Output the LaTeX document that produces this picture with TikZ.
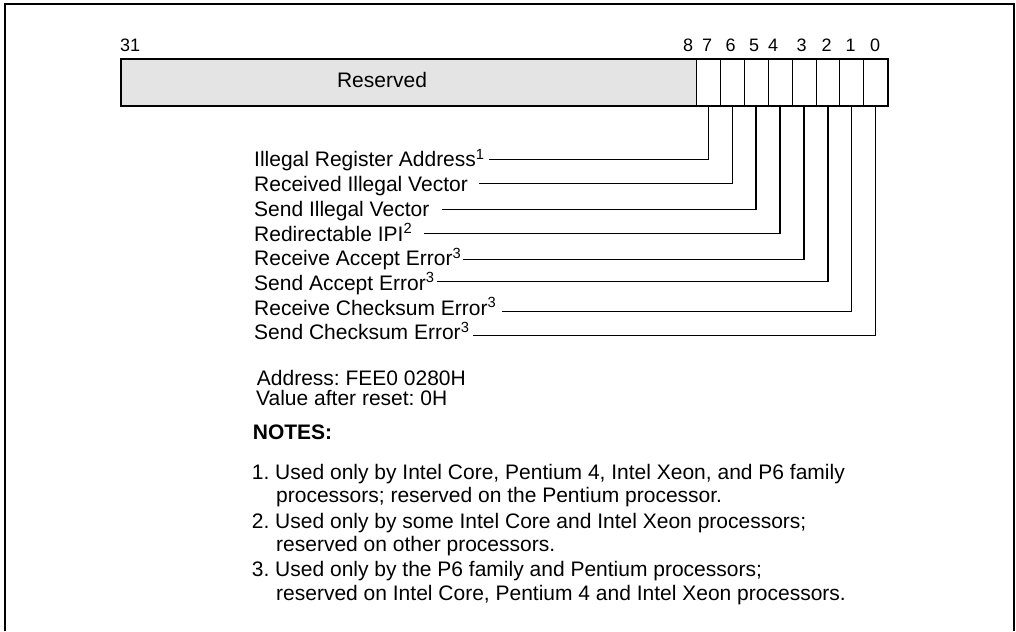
\documentclass[tikz,border=0pt]{standalone}
\usepackage{fontspec}
\setmainfont{Liberation Sans}
\definecolor{resgray}{HTML}{E4E4E4}
\begin{document}
\frenchspacing
\begin{tikzpicture}[x=1pt,y=-1pt, font=\fontsize{21}{25}\selectfont,
  lbl/.style={anchor=base west, inner sep=0pt},
  lead/.style={line width=1.4pt},
  cell/.style={draw, line width=0.8pt, minimum width=23.9pt, minimum height=47pt, inner sep=0pt, anchor=north west},
  bitnum/.style={font=\fontsize{18}{20}\selectfont, anchor=base, inner sep=0pt}]
\useasboundingbox (0,0) rectangle (1016,631);
% outer frame
\draw[line width=2pt] (5,631) -- (5,4) -- (1014,4) -- (1014,631);
% register
\node[fill=resgray, minimum width=576pt, minimum height=47pt, inner sep=0pt, anchor=north west] (res) at (120,58) {};
\node[inner sep=0pt] (restext) at (382,80) {Reserved};
\foreach \k in {7,...,0} {
  \node[cell] (b\k) at ({696+23.9*(7-\k)},58) {};
}
\node[draw, line width=2pt, minimum width=767.2pt, minimum height=47pt, inner sep=0pt, anchor=north west] (reg) at (120,58) {};
% bit numbers
\node[bitnum, anchor=base west] (n31) at (120,51.7) {31};
\node[bitnum] (n8) at (688,51.7) {8};
\node[bitnum] (n7) at (707,51.7) {7};
\node[bitnum] (n6) at (730.7,51.7) {6};
\node[bitnum] (n5) at (754,51.7) {5};
\node[bitnum] (n4) at (773,51.7) {4};
\node[bitnum] (n3) at (801.7,51.7) {3};
\node[bitnum] (n2) at (826.7,51.7) {2};
\node[bitnum] (n1) at (850.7,51.7) {1};
\node[bitnum] (n0) at (875,51.7) {0};
% field labels
\node[lbl] (l7) at (254,167) {Illegal Register Address\textsuperscript{1}};
\node[lbl] (l6) at (254,191.7) {Received Illegal Vector};
\node[lbl] (l5) at (254,216.3) {Send Illegal Vector};
\node[lbl] (l4) at (254,241) {Redirectable IPI\textsuperscript{2}};
\node[lbl] (l3) at (254,265.7) {Receive Accept Error\textsuperscript{3}};
\node[lbl] (l2) at (254,290.3) {Send Accept Error\textsuperscript{3}};
\node[lbl] (l1) at (254,315) {Receive Checksum Error\textsuperscript{3}};
\node[lbl] (l0) at (254,339.7) {Send Checksum Error\textsuperscript{3}};
% leader start points
\coordinate (s7) at (489,159.3);
\coordinate (s6) at (479,183.3);
\coordinate (s5) at (442,209.7);
\coordinate (s4) at (424,233.7);
\coordinate (s3) at (463,259.3);
\coordinate (s2) at (437,281.3);
\coordinate (s1) at (502,311.7);
\coordinate (s0) at (473,335.3);
\foreach \k in {7,...,0} {
  \draw[lead] (s\k) -| (b\k.south);
}
% address
\node[lbl] (addr) at (256.7,385) {Address: FEE0 0280H};
\node[lbl] (reset) at (256,405) {Value after reset: 0H};
\node[lbl, font=\fontsize{21}{25}\selectfont\bfseries] (notes) at (252.7,439.3) {NOTES:};
\node[lbl] (n1a) at (251.7,479.3) {1. Used only by Intel Core, Pentium 4, Intel Xeon, and P6 family};
\node[lbl] (n1b) at (276,502.7) {processors; reserved on the Pentium processor.};
\node[lbl] (n2a) at (251.7,528.3) {2. Used only by some Intel Core and Intel Xeon processors;};
\node[lbl] (n2b) at (276,551.7) {reserved on other processors.};
\node[lbl] (n3a) at (251.7,576.7) {3. Used only by the P6 family and Pentium processors;};
\node[lbl] (n3b) at (276,600) {reserved on Intel Core, Pentium 4 and Intel Xeon processors.};
\end{tikzpicture}
\end{document}
